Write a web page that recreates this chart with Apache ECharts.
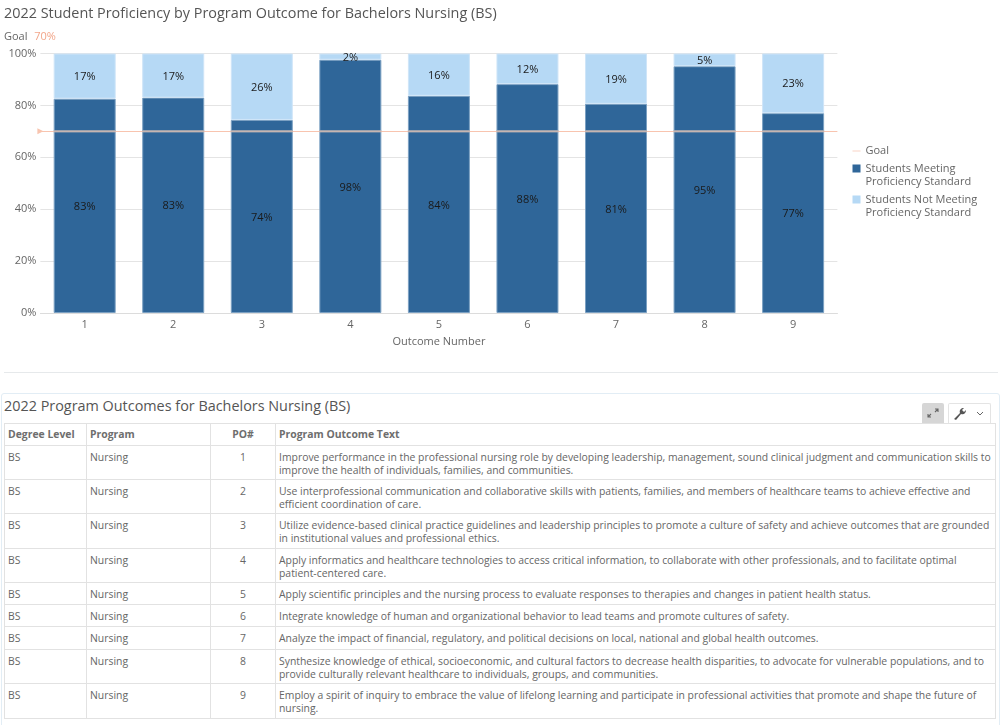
<!DOCTYPE html>
<html><head><meta charset="utf-8">
<script src="https://cdn.jsdelivr.net/npm/echarts@6/dist/echarts.min.js"></script>
<style>
html,body{margin:0;padding:0;background:#fff;width:1004px;height:725px;overflow:hidden;font-family:"Open Sans",sans-serif;color:#555}
#chart{position:absolute;left:0;top:0;width:1004px;height:365px}
#sep{position:absolute;left:4px;top:372px;width:994px;height:1px;background:#e6e9eb}
#panel{position:absolute;left:1px;top:393px;width:999px;height:340px;border:1px solid #e2edf5;border-radius:3px;box-sizing:border-box}
#t2{position:absolute;left:4px;top:396px;font-size:14.4px;line-height:20px;color:#555}
#tbl{position:absolute;left:4px;top:423px;width:992px;border-collapse:collapse;table-layout:fixed;font-size:10.4px;line-height:13px;color:#666}
#tbl td,#tbl th{border:1px solid #e2e2e2;padding:5px 3px 0 3px;vertical-align:top;text-align:left;white-space:pre;box-sizing:border-box;overflow:hidden}
#tbl th{font-weight:700;padding-top:4px;color:#6e6e6e}
#tbl .c{text-align:center}
.btn{position:absolute;box-sizing:border-box;top:403px;height:20px}
</style></head><body>
<div id="chart"></div>
<div id="sep"></div>
<div id="panel"></div>
<div id="t2"></div>
<div class="btn" style="left:922px;width:22px;background:#d6d6d6;border-radius:2px 2px 0 0">
<svg width="22" height="20" viewBox="0 0 22 20"><path d="M13 6h3v3M16 6l-3 3M9 14H6v-3M6 14l3-3" fill="none" stroke="#666" stroke-width="1.1"/></svg></div>
<div class="btn" style="left:948px;width:43px;border:1px solid #e4e4e4;border-bottom:0;border-radius:2px 2px 0 0">
<svg width="41" height="19" viewBox="0 0 41 19"><path d="M5 15l6-6c-1-3 1-5 4-5l-2 2 2 2 2-2c0 3-2 5-5 4l-5 6z" fill="#555"/><path d="M28 8l3 3 3-3" fill="none" stroke="#666" stroke-width="1"/></svg></div>
<table id="tbl"></table>
<script>
const chartTitle = '2022 Student Proficiency by Program Outcome for Bachelors Nursing (BS)';
const tableTitle = '2022 Program Outcomes for Bachelors Nursing (BS)';
const categories = ['1','2','3','4','5','6','7','8','9'];
const meeting = [82.6,83,74.4,97.6,83.7,88.2,80.6,95.1,77];
const notMeeting = [17.4,17,25.6,2.4,16.3,11.8,19.4,4.9,23];
const goalValue = 70;
const goalBand = [70,70,70,70,70,70,70,70,70];
const yTicks = [0,20,40,60,80,100];
const headers = ['Degree Level','Program','PO#','Program Outcome Text'];
const degree = 'BS';
const program = 'Nursing';
const outcomeText = [
'Improve performance in the professional nursing role by developing leadership, management, sound clinical judgment and communication skills to\nimprove the health of individuals, families, and communities.',
'Use interprofessional communication and collaborative skills with patients, families, and members of healthcare teams to achieve effective and\nefficient coordination of care.',
'Utilize evidence-based clinical practice guidelines and leadership principles to promote a culture of safety and achieve outcomes that are grounded\nin institutional values and professional ethics.',
'Apply informatics and healthcare technologies to access critical information, to collaborate with other professionals, and to facilitate optimal\npatient-centered care.',
'Apply scientific principles and the nursing process to evaluate responses to therapies and changes in patient health status.',
'Integrate knowledge of human and organizational behavior to lead teams and promote cultures of safety.',
'Analyze the impact of financial, regulatory, and political decisions on local, national and global health outcomes.',
'Synthesize knowledge of ethical, socioeconomic, and cultural factors to decrease health disparities, to advocate for vulnerable populations, and to\nprovide culturally relevant healthcare to individuals, groups, and communities.',
'Employ a spirit of inquiry to embrace the value of lifelong learning and participate in professional activities that promote and shape the future of\nnursing.'
];
const rowHeights = [34,34,35,34,22,22,23,34,35];

document.getElementById('t2').textContent = tableTitle;
const esc = s => s.replace(/&/g,'&amp;');
let html = '<colgroup><col style="width:82px"><col style="width:124px"><col style="width:65px"><col></colgroup>';
html += '<tr style="height:22px">' + headers.map((h,i)=>`<th${i===2?' class="c"':''}>${h}</th>`).join('') + '</tr>';
outcomeText.forEach((t,i)=>{
  html += `<tr style="height:${rowHeights[i]}px"><td>${degree}</td><td>${program}</td><td class="c">${categories[i]}</td><td>${esc(t)}</td></tr>`;
});
document.getElementById('tbl').innerHTML = html;

const font = '"Open Sans"';
const lab = {show:true,position:'inside',offset:[0,1],color:'#1a1a1a',fontFamily:font,fontSize:11,formatter:p=>Math.round(p.value)+'%'};
const legendText = {fontFamily:font,fontSize:11,color:'#666',lineHeight:13};
const squareIcon = 'path://M0 0h8v8H0z M0 22h8v0H0z';
const chart = echarts.init(document.getElementById('chart'),null,{renderer:'canvas'});
chart.setOption({
  animation:false,
  textStyle:{fontFamily:font},
  title:[
    {text:chartTitle,left:4,top:7,padding:0,textStyle:{fontFamily:font,fontSize:14.4,fontWeight:400,color:'#555'}},
    {text:'{a|Goal} {b|'+goalValue+'%}',left:4,top:28,padding:0,textStyle:{fontWeight:400,rich:{a:{fontFamily:font,fontSize:11,fontWeight:400,color:'#666'},b:{fontFamily:font,fontSize:11,fontWeight:400,color:'#f2a68a',padding:[0,0,0,2]}}}}
  ],
  legend:[
    {orient:'vertical',left:852.5,top:144.5,padding:0,itemWidth:8,itemHeight:1,selectedMode:false,textStyle:legendText,
     data:[{name:'Goal',icon:'path://M0 0h8v1H0z',itemStyle:{color:'#f9c9b6',borderWidth:0}}]},
    {orient:'vertical',left:852.5,top:162.5,padding:0,itemWidth:8,itemHeight:22,itemGap:5,selectedMode:false,textStyle:legendText,
     data:[
      {name:'Students Meeting\nProficiency Standard',icon:squareIcon,itemStyle:{color:'#2f6699',borderWidth:0}},
      {name:'Students Not Meeting\nProficiency Standard',icon:squareIcon,itemStyle:{color:'#b6d9f5',borderWidth:0}}
     ]}
  ],
  grid:{left:40.4,right:166.6,top:53.5,height:259.5,containLabel:false},
  xAxis:{type:'category',data:categories,name:'Outcome Number',nameLocation:'middle',nameGap:23,
    nameTextStyle:{fontFamily:font,fontSize:11,color:'#666'},
    axisTick:{show:false},axisLine:{show:true,lineStyle:{color:'#dcdcdc'}},
    axisLabel:{fontFamily:font,fontSize:11,color:'#666',margin:6}},
  yAxis:{type:'value',min:yTicks[0],max:yTicks[yTicks.length-1],interval:20,
    axisLine:{show:false},axisTick:{show:false},
    splitLine:{lineStyle:{color:'#e4e4e4'}},
    axisLabel:{fontFamily:font,fontSize:11,color:'#666',margin:4,formatter:'{value}%'}},
  series:[
    {name:'Students Meeting\nProficiency Standard',type:'bar',stack:'s',data:meeting,barWidth:62,
     itemStyle:{color:'#2f6699',borderColor:'#7ba0c2',borderWidth:1},label:lab},
    {name:'Students Not Meeting\nProficiency Standard',type:'bar',stack:'s',data:notMeeting,barWidth:62,
     itemStyle:{color:'#b6d9f5',borderColor:'#cfe5f8',borderWidth:1},label:lab},
    {name:'Goal',type:'scatter',data:goalBand,symbol:'rect',symbolSize:[62,2.5],z:5,
     itemStyle:{color:'#b9b2b2'},
     markLine:{silent:true,animation:false,z:4,symbol:['triangle','none'],symbolSize:[6,6],symbolRotate:-90,
       label:{show:false},lineStyle:{color:'#f8c4af',width:1,type:'solid'},
       data:[{yAxis:goalValue}]}}
  ]
});
</script>
</body></html>
